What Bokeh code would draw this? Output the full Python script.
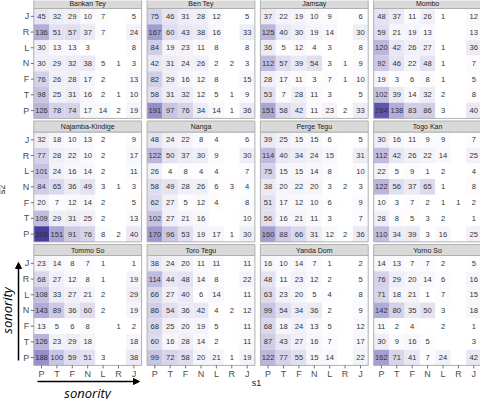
import numpy as np
from bokeh.plotting import figure
from bokeh.models import ColumnDataSource, Range1d, Label, Arrow, NormalHead
from bokeh.transform import linear_cmap
from bokeh.embed import file_html
from bokeh.resources import INLINE
from bokeh.core.properties import value

# ---------------- data ----------------
s2_labels = ["J", "R", "L", "N", "F", "T", "P"]   # rows, top to bottom
s1_labels = ["P", "T", "F", "N", "L", "R", "J"]   # columns, left to right
languages = ["Bankan Tey", "Ben Tey", "Jamsay", "Mombo",
             "Najamba-Kindige", "Nanga", "Perge Tegu", "Togo Kan",
             "Tommo So", "Toro Tegu", "Yanda Dom", "Yorno So"]
N = None
bankan_tey = [[45, 32, 29, 10, 7, N, 5], [136, 51, 57, 37, 7, N, 24], [30, 13, 13, 3, N, N, 8],
              [30, 29, 32, 38, 5, 1, 3], [76, 26, 28, 17, 2, N, 13], [98, 25, 31, 16, 2, 1, 10],
              [126, 78, 74, 17, 14, 2, 19]]
ben_tey = [[75, 46, 31, 28, 12, N, 5], [167, 60, 43, 38, 16, N, 33], [84, 19, 23, 11, 8, N, 8],
           [42, 31, 24, 26, 2, 2, 3], [82, 29, 16, 12, 8, N, 15], [58, 31, 32, 12, 5, 1, 9],
           [191, 97, 76, 34, 14, 1, 36]]
jamsay = [[37, 22, 19, 10, 9, N, 6], [125, 40, 30, 19, 14, N, 30], [36, 5, 12, 4, 3, N, 8],
          [112, 57, 39, 54, 3, 1, 9], [28, 17, 11, 3, 7, 1, 10], [53, 7, 28, 11, 3, N, 5],
          [151, 58, 42, 11, 23, 2, 33]]
mombo = [[48, 37, 11, 26, 1, N, 12], [59, 21, 19, 13, N, N, 13], [120, 42, 26, 27, 1, N, 36],
         [92, 46, 22, 48, 1, N, 7], [19, 3, 6, 8, 1, N, 5], [102, 39, 14, 32, 2, N, 8],
         [284, 138, 83, 86, 3, N, 40]]
najamba_kindige = [[32, 18, 10, 13, 2, N, 9], [77, 28, 22, 10, 2, N, 17], [101, 24, 16, 14, 2, N, 11],
                   [84, 65, 36, 49, 3, 1, 3], [20, 7, 12, 14, 2, N, 5], [109, 29, 31, 25, 2, N, 13],
                   [326, 151, 91, 76, 8, 2, 40]]
nanga = [[48, 24, 22, 8, 4, N, 6], [122, 50, 37, 30, 9, N, 30], [26, 4, 8, 4, 4, N, 7],
         [58, 49, 28, 26, 6, 3, 4], [62, 27, 5, 12, 4, N, 8], [102, 27, 21, 16, N, N, 10],
         [170, 96, 53, 19, 17, 1, 30]]
perge_tegu = [[39, 25, 15, 15, 6, N, 5], [114, 40, 34, 24, 15, N, 31], [75, 15, 15, 14, 8, N, 10],
              [38, 20, 22, 20, 3, 2, 3], [51, 17, 12, 10, 6, N, 9], [56, 16, 21, 11, 3, N, 7],
              [160, 88, 66, 31, 12, 2, 36]]
togo_kan = [[30, 16, 11, 9, 9, N, 7], [112, 42, 26, 22, 14, N, 25], [22, 5, 9, 1, 2, N, 4],
            [122, 56, 37, 65, 1, N, 8], [10, 3, 7, 2, 1, 1, 2], [28, 8, 5, 3, 2, N, 1],
            [110, 34, 39, 3, 16, N, 25]]
tommo_so = [[23, 14, 8, 7, 1, N, 1], [68, 27, 12, 8, 1, N, 19], [108, 33, 27, 21, 2, N, 29],
            [143, 89, 36, 60, 2, N, 19], [13, 5, 6, 8, N, 1, 2], [126, 23, 29, 18, N, N, 18],
            [188, 100, 59, 51, 3, N, 38]]
toro_tegu = [[38, 24, 20, 11, 11, N, 11], [114, 44, 48, 14, 8, N, 22], [66, 27, 40, 6, 14, N, 11],
             [86, 54, 36, 42, 4, 2, 12], [68, 25, 20, 19, 5, N, 11], [60, 16, 28, 14, 2, N, 11],
             [99, 72, 58, 20, 21, 1, 19]]
yanda_dom = [[16, 10, 14, 7, 1, N, 2], [48, 11, 23, 12, 2, N, 5], [63, 23, 20, 5, 4, N, 8],
             [99, 54, 34, 36, 2, N, 9], [68, 18, 24, 13, 5, N, 12], [87, 43, 27, 16, 7, N, 17],
             [122, 77, 55, 15, 14, N, 22]]
yorno_so = [[14, 13, 7, 7, 2, N, 5], [76, 29, 20, 14, 6, N, 16], [71, 18, 21, 1, 7, N, 15],
            [142, 80, 35, 50, 3, N, 18], [11, 2, 4, N, 2, N, 1], [30, 9, 16, 5, N, N, 3],
            [162, 71, 41, 7, 24, N, 42]]
matrices = [bankan_tey, ben_tey, jamsay, mombo, najamba_kindige, nanga,
            perge_tegu, togo_kan, tommo_so, toro_tegu, yanda_dom, yorno_so]

# ---------------- layout (cell units) ----------------
W, H = 480, 399
CW, CH = 15.4, 15.7          # px per cell
X0 = -2.162                  # data x at left edge of canvas
Y0 = -0.5096                 # data y at top edge of canvas
PITCH_X = 113.3 / CW
PITCH_Y = 123.5 / CH
STRIP = 11.0 / CH
NCOL = 4


def ix(px):  # image px -> data x
    return (px - 8) / CW + X0


def iy(py):  # image px -> data y
    return (py - 8) / CH + Y0


# build cell table
xs, ys, vals, txt = [], [], [], []
for k, mat in enumerate(matrices):
    pr, pc = divmod(k, NCOL)
    for r, row in enumerate(mat):
        for c, v in enumerate(row):
            if v is None:
                continue
            xs.append(pc * PITCH_X + c + 0.5)
            ys.append(pr * PITCH_Y + r + 0.5)
            vals.append(v)
            txt.append(str(v))
cells = ColumnDataSource(dict(x=xs, y=ys, v=vals, t=txt))

hi = np.array([72, 60, 162])
lo = np.array([255, 255, 255])
palette = ["#%02x%02x%02x" % tuple(int(round(a)) for a in lo + (hi - lo) * f)
           for f in np.linspace(0, 1, 256)]

p = figure(width=W, height=H, output_backend="svg", toolbar_location=None,
           x_range=Range1d(X0, X0 + W / CW), y_range=Range1d(Y0 + H / CH, Y0),
           x_axis_location=None, y_axis_location=None, min_border=0,
           background_fill_color="white", border_fill_color="white")
p.outline_line_color = None
p.grid.visible = False

# panel backgrounds / borders and strips
pl, pr_, pt, pb, sl, sr, st, sb, names, nx, ny = [], [], [], [], [], [], [], [], [], [], []
for k, name in enumerate(languages):
    r, c = divmod(k, NCOL)
    left, top = c * PITCH_X, r * PITCH_Y
    pl.append(left); pr_.append(left + 7); pt.append(top); pb.append(top + 7)
    sl.append(left); sr.append(left + 7); st.append(top - STRIP); sb.append(top)
    names.append(name); nx.append(left + 3.5); ny.append(top - STRIP / 2)

p.quad(left=pl, right=pr_, top=pt, bottom=pb, fill_color="white", line_color=None)
p.rect(x="x", y="y", width=1, height=1, source=cells,
       fill_color=linear_cmap("v", palette, 1, 326), line_color=None)
p.quad(left=pl, right=pr_, top=pt, bottom=pb, fill_color=None, line_color="#b0b0b0", line_width=1)
p.quad(left=sl, right=sr, top=st, bottom=sb, fill_color="#d9d9d9", line_color="#b0b0b0", line_width=1)
p.text(x=nx, y=ny, text=names, text_align="center", text_baseline="middle",
       text_font=value("Liberation Sans"), text_font_size="7px", text_color="#1a1a1a")

p.text(x="x", y="y", text="t", source=cells, text_align="center", text_baseline="middle",
       text_font=value("Liberation Sans"), text_font_size="7.6px", text_color="#333333")

# axes: left tick labels (first column), bottom tick labels (last row)
TL = 3.0 / CW
lx, ly, lt = [], [], []
seg_x0, seg_x1, seg_y0, seg_y1 = [], [], [], []
for r in range(3):
    for j, lab in enumerate(s2_labels):
        yy = r * PITCH_Y + j + 0.5
        lx.append(-TL - 1.5 / CW); ly.append(yy); lt.append(lab)
        seg_x0.append(-TL); seg_x1.append(0); seg_y0.append(yy); seg_y1.append(yy)
p.text(x=lx, y=ly, text=lt, text_align="right", text_baseline="middle",
       text_font=value("Liberation Sans"), text_font_size="9px", text_color="#4d4d4d")
bx, by, bt = [], [], []
ybot = 2 * PITCH_Y + 7
for c in range(NCOL):
    for i, lab in enumerate(s1_labels):
        xx = c * PITCH_X + i + 0.5
        bx.append(xx); by.append(ybot + TL * CW / CH + 1.0 / CH); bt.append(lab)
        seg_x0.append(xx); seg_x1.append(xx); seg_y0.append(ybot); seg_y1.append(ybot + TL * CW / CH)
p.text(x=bx, y=by, text=bt, text_align="center", text_baseline="top",
       text_font=value("Liberation Sans"), text_font_size="9px", text_color="#4d4d4d")
p.segment(x0=seg_x0, x1=seg_x1, y0=seg_y0, y1=seg_y1, line_color="#4d4d4d", line_width=0.8)

# axis titles
p.add_layout(Label(x=ix(264), y=iy(390), text="s1", text_align="center", text_baseline="middle",
                   text_font="Liberation Sans", text_font_size="9px", text_color="#1a1a1a"))
p.add_layout(Label(x=ix(9), y=iy(197), text="s2", text_align="center", text_baseline="middle",
                   angle=np.pi / 2, text_font="Liberation Sans", text_font_size="9px",
                   text_color="#1a1a1a"))

# sonority annotations
p.add_layout(Arrow(end=NormalHead(size=6, fill_color="black", line_color="black"),
                   x_start=ix(45), y_start=iy(389), x_end=ix(147), y_end=iy(389),
                   line_color="black", line_width=1.5))
p.add_layout(Arrow(end=NormalHead(size=6, fill_color="black", line_color="black"),
                   x_start=ix(26), y_start=iy(368), x_end=ix(26), y_end=iy(270),
                   line_color="black", line_width=1.5))
p.add_layout(Label(x=ix(95), y=iy(400), text="sonority", text_align="center", text_baseline="middle",
                   text_font="Open Sans", text_font_style="italic", text_font_size="13px",
                   text_color="black"))
p.add_layout(Label(x=ix(14), y=iy(318), text="sonority", text_align="center", text_baseline="middle",
                   angle=np.pi / 2, text_font="Open Sans", text_font_style="italic",
                   text_font_size="13px", text_color="black"))

open("out.html", "w").write(file_html(p, INLINE))
